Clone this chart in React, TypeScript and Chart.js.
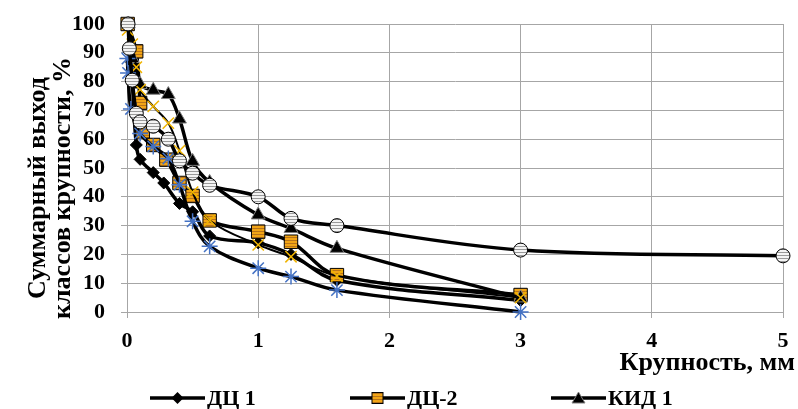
import React, { useEffect, useRef } from 'react';
import { Chart, registerables } from 'chart.js';

Chart.register(...registerables);

const FONT = "'Liberation Serif', 'Times New Roman', serif";

const seriesNames = ['ДЦ 1', 'ДЦ-2', 'КИД 1', 'Ряд 4', 'Ряд 5', 'Ряд 6'];
const xTitle = 'Крупность, мм';
const yTitle = ['Суммарный выход', 'классов крупности, %'];

const xTicks = [0, 1, 2, 3, 4, 5];
const yTicks = [0, 10, 20, 30, 40, 50, 60, 70, 80, 90, 100];

const dc1X = [0.01, 0.04, 0.071, 0.1, 0.2, 0.28, 0.4, 0.5, 0.63, 1, 1.25, 1.6, 3];
const dc1Y = [100, 80, 58, 53, 48.4, 44.8, 37.7, 34.8, 26.4, 24, 20, 11, 4];

const dc2X = [0.005, 0.07, 0.1, 0.12, 0.2, 0.3, 0.4, 0.5, 0.63, 1, 1.25, 1.6, 3];
const dc2Y = [100, 90.5, 72.6, 62.7, 58, 52.9, 44.8, 40.3, 31.8, 27.9, 24.4, 12.8, 5.9];

const kid1X = [0.01, 0.04, 0.1, 0.2, 0.315, 0.4, 0.5, 0.63, 1, 1.25, 1.6, 3];
const kid1Y = [100, 88, 79, 77, 75.5, 67, 52.3, 45, 33.7, 29, 22.1, 4.9];

const s4X = [0.005, 0.04, 0.071, 0.1, 0.2, 0.315, 0.4, 0.5, 0.63, 1, 1.25, 1.6, 3];
const s4Y = [98, 93, 85, 77.2, 71.4, 65.6, 56, 41.6, 31.8, 23.3, 19.2, 12.5, 5];

const s5X = [0.003, 0.008, 0.03, 0.1, 0.2, 0.315, 0.4, 0.5, 0.63, 1, 1.25, 1.6, 3];
const s5Y = [88, 83, 70.5, 62, 57.5, 53.3, 44.2, 31.5, 22.8, 15.2, 12.3, 7.6, 0];

const s6X = [0.008, 0.018, 0.04, 0.071, 0.1, 0.2, 0.315, 0.4, 0.5, 0.63, 1, 1.25, 1.6, 3, 5];
const s6Y = [100, 91.5, 80.5, 69, 66, 64.5, 60, 52.5, 48.2, 44, 40, 32.5, 30, 21.5, 19.5];

function zip(xs: number[], ys: number[]) {
  return xs.map((x, i) => ({ x, y: ys[i] }));
}

function stripePattern(ctx: CanvasRenderingContext2D, base: string, stripe: string, period: number, thick: number) {
  const c = document.createElement('canvas');
  c.width = 4;
  c.height = period;
  const g = c.getContext('2d')!;
  g.fillStyle = base;
  g.fillRect(0, 0, 4, period);
  g.fillStyle = stripe;
  g.fillRect(0, 0, 4, thick);
  return ctx.createPattern(c, 'repeat')!;
}

export default function App() {
  const ref = useRef<HTMLCanvasElement>(null);

  useEffect(() => {
    document.body.style.margin = '0';
    const canvas = ref.current!;
    const ctx = canvas.getContext('2d')!;
    const orangePat = stripePattern(ctx, '#F2A516', '#B8741A', 3, 1);
    const greyPat = stripePattern(ctx, '#F4F4F4', '#9A9A9A', 3, 1);

    const textPlugin = {
      id: 'textsAndLegend',
      afterDraw(chart: any) {
        const c = chart.ctx as CanvasRenderingContext2D;
        const area = chart.chartArea;
        c.save();
        c.fillStyle = '#000';
        // Y title (two rotated lines)
        c.font = `bold 26px ${FONT}`;
        c.textAlign = 'center';
        c.textBaseline = 'middle';
        const yc = 188;
        const xs = [area.left - 89, area.left - 64];
        for (let i = 0; i < yTitle.length; i++) {
          c.save();
          c.translate(xs[i], yc);
          c.rotate(-Math.PI / 2);
          c.fillText(yTitle[i], 0, 0);
          c.restore();
        }
        // X title, right aligned
        c.textAlign = 'right';
        c.fillText(xTitle, chart.width - 3, area.bottom + 51);

        // Legend
        const y = chart.height - 11;
        const starts = [150, 350, 551];
        for (let i = 0; i < 3; i++) {
          const x0 = starts[i];
          c.strokeStyle = '#000';
          c.lineWidth = 3.5;
          c.beginPath();
          c.moveTo(x0, y);
          c.lineTo(x0 + 55, y);
          c.stroke();
          const mx = x0 + 27.5;
          c.lineWidth = 1;
          if (i === 0) {
            c.fillStyle = '#000';
            c.beginPath();
            c.moveTo(mx, y - 6);
            c.lineTo(mx + 6, y);
            c.lineTo(mx, y + 6);
            c.lineTo(mx - 6, y);
            c.closePath();
            c.fill();
          } else if (i === 1) {
            c.fillStyle = orangePat;
            c.fillRect(mx - 5.5, y - 5.5, 11, 11);
            c.strokeStyle = '#000';
            c.strokeRect(mx - 5.5, y - 5.5, 11, 11);
          } else {
            c.fillStyle = '#000';
            c.strokeStyle = '#808080';
            c.beginPath();
            c.moveTo(mx, y - 6);
            c.lineTo(mx + 6.5, y + 5);
            c.lineTo(mx - 6.5, y + 5);
            c.closePath();
            c.fill();
            c.stroke();
          }
          c.fillStyle = '#000';
          c.font = `bold 22px ${FONT}`;
          c.textBaseline = 'middle';
          c.textAlign = 'left';
          c.fillText(seriesNames[i], x0 + 57, y + 1);
        }
        c.restore();
      },
    };

    const base = { showLine: true, borderColor: '#000', tension: 0.35, clip: false as any };

    const chart = new Chart(canvas, {
      type: 'scatter',
      data: {
        datasets: [
          {
            ...base,
            label: seriesNames[0],
            data: zip(dc1X, dc1Y),
            borderWidth: 3.5,
            pointStyle: 'rectRot',
            pointRadius: 6,
            pointBackgroundColor: '#000',
            pointBorderColor: '#000',
            pointBorderWidth: 1,
            order: 5,
          },
          {
            ...base,
            label: seriesNames[1],
            data: zip(dc2X, dc2Y),
            borderWidth: 3.5,
            pointStyle: 'rect',
            pointRadius: 9.5,
            pointBackgroundColor: orangePat,
            pointBorderColor: '#000',
            pointBorderWidth: 1,
            order: 4,
          },
          {
            ...base,
            label: seriesNames[2],
            data: zip(kid1X, kid1Y),
            borderWidth: 3.5,
            pointStyle: 'triangle',
            pointRadius: 8,
            pointBackgroundColor: '#000',
            pointBorderColor: '#7F7F7F',
            pointBorderWidth: 1,
            order: 3,
          },
          {
            ...base,
            label: seriesNames[3],
            data: zip(s4X, s4Y),
            borderWidth: 2,
            pointStyle: 'crossRot',
            pointRadius: 8,
            pointBackgroundColor: '#FFC000',
            pointBorderColor: '#F0B400',
            pointBorderWidth: 1.5,
            order: 2,
          },
          {
            ...base,
            label: seriesNames[4],
            data: zip(s5X, s5Y),
            borderWidth: 3.5,
            pointStyle: 'star',
            pointRadius: 8,
            pointBackgroundColor: '#4472C4',
            pointBorderColor: '#4472C4',
            pointBorderWidth: 1.5,
            order: 1,
          },
          {
            ...base,
            label: seriesNames[5],
            data: zip(s6X, s6Y),
            borderWidth: 3.5,
            pointStyle: 'circle',
            pointRadius: 7,
            pointBackgroundColor: greyPat,
            pointBorderColor: '#000',
            pointBorderWidth: 1,
            order: 0,
          },
        ],
      },
      options: {
        responsive: false,
        animation: false,
        layout: { padding: { top: 24, right: 15, bottom: 0, left: 0 } },
        plugins: {
          legend: { display: false },
          tooltip: { enabled: false },
        },
        scales: {
          x: {
            type: 'linear',
            min: xTicks[0],
            max: xTicks[xTicks.length - 1],
            afterBuildTicks: (axis: any) => {
              axis.ticks = xTicks.map((v) => ({ value: v }));
            },
            afterFit: (axis: any) => {
              axis.height = 97;
              axis.paddingLeft = 0;
              axis.paddingRight = 0;
            },
            grid: { color: '#A6A6A6', lineWidth: 1, tickLength: 6, drawTicks: true },
            border: { color: '#A6A6A6', width: 1 },
            ticks: { color: '#000', font: { family: FONT, size: 22, weight: 'bold' }, padding: 10, maxRotation: 0, autoSkip: false },
          },
          y: {
            type: 'linear',
            min: yTicks[0],
            max: yTicks[yTicks.length - 1],
            afterBuildTicks: (axis: any) => {
              axis.ticks = yTicks.map((v) => ({ value: v }));
            },
            afterFit: (axis: any) => {
              axis.width = 127;
              axis.paddingTop = 0;
              axis.paddingBottom = 0;
            },
            grid: { color: '#A6A6A6', lineWidth: 1, tickLength: 6, drawTicks: true },
            border: { color: '#A6A6A6', width: 1 },
            ticks: { color: '#000', font: { family: FONT, size: 22, weight: 'bold' }, padding: 16, autoSkip: false },
          },
        },
      },
      plugins: [textPlugin],
    });
    return () => chart.destroy();
  }, []);

  return (
    <div style={{ width: 798, height: 409 }}>
      <canvas ref={ref} width={798} height={409} style={{ display: 'block' }} />
    </div>
  );
}
